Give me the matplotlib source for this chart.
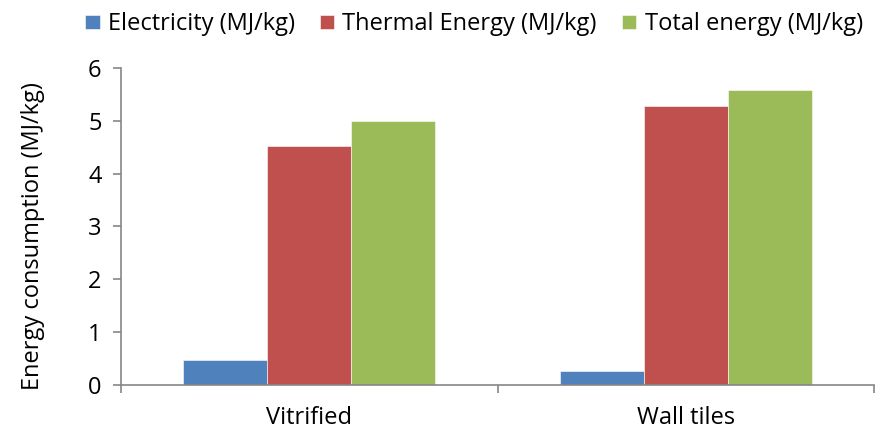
import matplotlib.pyplot as plt
import numpy as np

categories = ['Vitrified', 'Wall tiles']
electricity = [0.47, 0.27]
thermal = [4.52, 5.29]
total = [5.00, 5.58]
series_names = ['Electricity (MJ/kg)', 'Thermal Energy (MJ/kg)', 'Total energy (MJ/kg)']
colors = ['#4F81BD', '#C0504D', '#9BBB59']

plt.rcParams['font.family'] = ['Open Sans', 'DejaVu Sans']
fs = 17

fig = plt.figure(figsize=(8.79, 4.32), dpi=100)
ax = fig.add_axes([0.1377, 0.1088, 0.8566, 0.7338])

x = np.arange(len(categories))
width = 0.223
for i, (vals, name, c) in enumerate(zip([electricity, thermal, total], series_names, colors)):
    ax.bar(x + (i - 1) * width, vals, width, color=c, label=name,
           edgecolor='white', linewidth=0.4)

ax.set_xlim(-0.5, 1.5)
ax.set_ylim(0, 6)
ax.set_yticks(range(7))
ax.set_xticks(x)
ax.set_xticklabels(categories)
ax.set_xticks([-0.5, 0.5, 1.5], minor=True)
ax.tick_params(axis='x', which='major', length=0, pad=15, labelsize=fs)
ax.tick_params(axis='x', which='minor', length=6, color='#868686', width=1.2)
ax.tick_params(axis='y', length=6, color='#868686', width=1.2, labelsize=fs, pad=8)
ax.set_ylabel('Energy consumption (MJ/kg)', fontsize=fs)
ax.yaxis.set_label_coords(-0.101, 0.47)

for s in ['top', 'right']:
    ax.spines[s].set_visible(False)
for s in ['left', 'bottom']:
    ax.spines[s].set_color('#868686')
    ax.spines[s].set_linewidth(1.2)

fig.legend(loc='center', bbox_to_anchor=(0.539, 0.944), ncol=3, frameon=False,
           fontsize=fs, handlelength=0.62, handleheight=0.55, handletextpad=0.35,
           columnspacing=1.05, borderpad=0, borderaxespad=0)

fig.savefig('out.png', dpi=100)
